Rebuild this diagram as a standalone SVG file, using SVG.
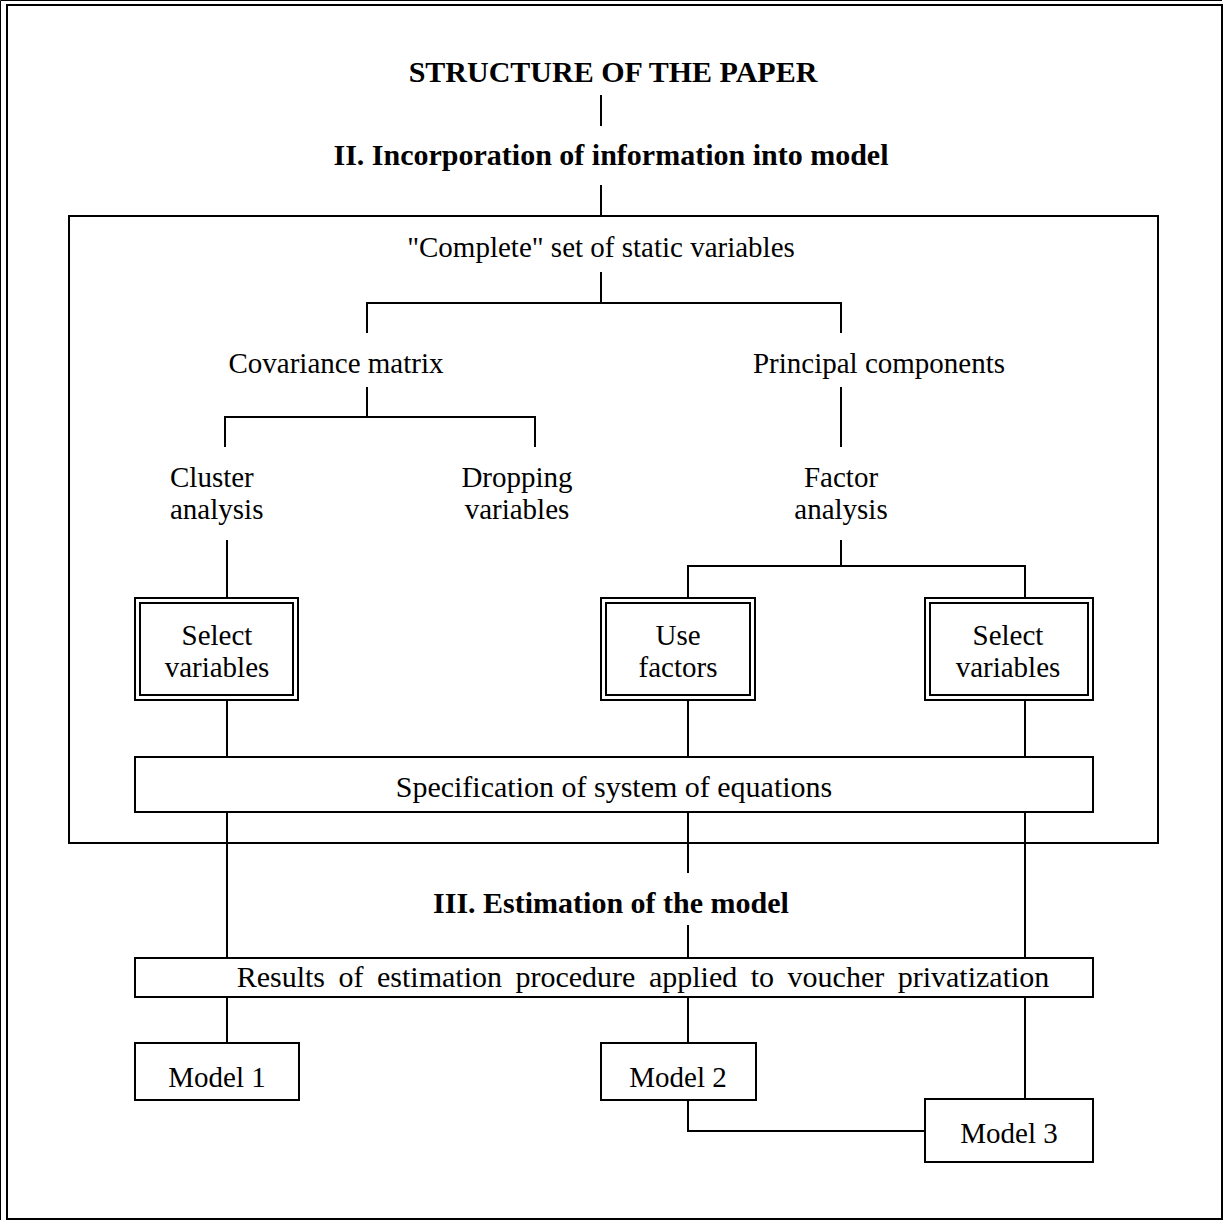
<svg xmlns="http://www.w3.org/2000/svg" width="1226" height="1222" viewBox="0 0 1226 1222">
<style>
.t{font-family:"Liberation Serif","Times New Roman",serif;font-size:29px;fill:#000}
.t30{font-size:30px}
.b{font-family:"Liberation Serif","Times New Roman",serif;font-size:30px;font-weight:bold;fill:#000}
.m{text-anchor:middle}
.box{fill:#fff;stroke:#000;stroke-width:2}
.frm{fill:none;stroke:#000;stroke-width:2}
.ln{fill:none;stroke:#000;stroke-width:2}
</style>
<rect width="1226" height="1222" fill="#fff"/>
<g id="frame">
<path d="M0.5,1220 V0.5 H1222" fill="none" stroke="#000" stroke-width="1"/>
<rect x="7" y="5" width="1215" height="1214" class="frm"/>
</g>
<g id="bigbox"><rect class="frm" x="69" y="216" width="1089" height="627"/></g>
<g id="connectors">
<path class="ln" d="M601,95 V126"/>
<path class="ln" d="M601,185 V216"/>
<path class="ln" d="M601,272 V303 M367,333 V303 H841 V333"/>
<path class="ln" d="M367,387 V417 M225,447 V417 H535 V447"/>
<path class="ln" d="M841,387 V447"/>
<path class="ln" d="M227,540 V598"/>
<path class="ln" d="M841,540 V566 M688,598 V566 H1025 V598"/>
<path class="ln" d="M227,700 V757 M688,700 V757 M1025,700 V757"/>
<path class="ln" d="M227,812 V958 M1025,812 V958 M688,812 V873 M688,925 V958"/>
<path class="ln" d="M227,997 V1043 M688,997 V1043 M1025,997 V1099"/>
<path class="ln" d="M688,1100 V1131 H925"/>
</g>
<g id="title"><text class="b m" x="613" y="82">STRUCTURE OF THE PAPER</text></g>
<g id="section2"><text class="b m" x="611" y="165">II. Incorporation of information into model</text></g>
<g id="complete"><text class="t m" x="601" y="257">"Complete" set of static variables</text></g>
<g id="covariance"><text class="t m" x="336" y="373">Covariance matrix</text></g>
<g id="principal"><text class="t m" x="879" y="373">Principal components</text></g>
<g id="cluster"><text class="t" x="170" y="487">Cluster</text><text class="t" x="170" y="519">analysis</text></g>
<g id="dropping"><text class="t m" x="517" y="487">Dropping</text><text class="t m" x="517" y="519">variables</text></g>
<g id="factor"><text class="t m" x="841" y="487">Factor</text><text class="t m" x="841" y="519">analysis</text></g>
<g id="select1">
<rect class="box" x="135" y="598" width="163" height="102"/>
<rect class="box" x="140" y="603" width="153" height="92"/>
<text class="t m" x="217" y="645">Select</text><text class="t m" x="217" y="677">variables</text>
</g>
<g id="usefactors">
<rect class="box" x="601" y="598" width="154" height="102"/>
<rect class="box" x="606" y="603" width="144" height="92"/>
<text class="t m" x="678" y="645">Use</text><text class="t m" x="678" y="677">factors</text>
</g>
<g id="select2">
<rect class="box" x="925" y="598" width="168" height="102"/>
<rect class="box" x="930" y="603" width="158" height="92"/>
<text class="t m" x="1008" y="645">Select</text><text class="t m" x="1008" y="677">variables</text>
</g>
<g id="spec">
<rect class="box" x="135" y="757" width="958" height="55"/>
<text class="t t30 m" x="614" y="797">Specification of system of equations</text>
</g>
<g id="section3"><text class="b m" x="611" y="913">III. Estimation of the model</text></g>
<g id="results">
<rect class="box" x="135" y="958" width="958" height="39"/>
<text class="t t30 m" x="643" y="987" word-spacing="6">Results of estimation procedure applied to voucher privatization</text>
</g>
<g id="model1"><rect class="box" x="135" y="1043" width="164" height="57"/><text class="t m" x="217" y="1087">Model 1</text></g>
<g id="model2"><rect class="box" x="601" y="1043" width="155" height="57"/><text class="t m" x="678" y="1087">Model 2</text></g>
<g id="model3"><rect class="box" x="925" y="1099" width="168" height="63"/><text class="t m" x="1009" y="1143">Model 3</text></g>
</svg>
